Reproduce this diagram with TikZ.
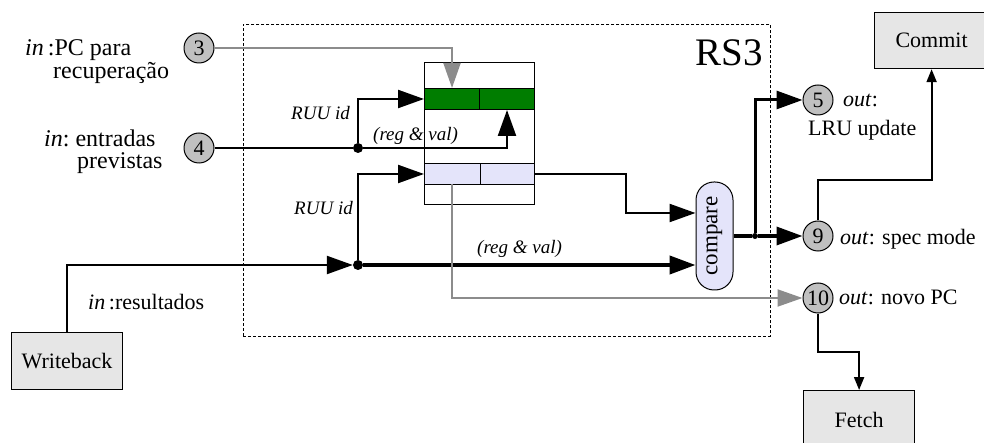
\documentclass[tikz,border=0pt]{standalone}
\usepackage{fontspec}
\setmainfont{Liberation Serif}
\usetikzlibrary{arrows.meta}
\definecolor{cgray}{RGB}{192,192,192}
\definecolor{boxgray}{RGB}{230,230,230}
\definecolor{dgreen}{RGB}{0,125,0}
\definecolor{lav}{RGB}{228,228,250}
\definecolor{lgray}{RGB}{140,140,140}
\begin{document}
\begin{tikzpicture}[x=1pt,y=-1pt,
  num/.style={circle,draw,fill=cgray,minimum size=30pt,inner sep=0pt,font=\fontsize{22}{24}\selectfont,line width=1pt},
  stage/.style={draw,fill=boxgray,line width=1.2pt,inner sep=0pt,anchor=north west,font=\fontsize{22}{26}\selectfont},
  lbl/.style={font=\fontsize{22}{26}\selectfont,inner sep=0pt,anchor=base west},
  lbll/.style={font=\fontsize{24}{28}\selectfont,inner sep=0pt,anchor=base west},
  ilbl/.style={font=\fontsize{19}{22}\selectfont\itshape,inner sep=0pt},
  cell/.style={draw,line width=1pt,inner sep=0pt,anchor=north west,minimum height=21pt},
  bigtip/.style={-{Triangle[length=26pt,width=18pt]}},
  smalltip/.style={-{Triangle[length=13pt,width=10pt]}},
  wire/.style={line width=2.3pt},
  gwire/.style={line width=2pt,draw=lgray,-{Triangle[length=25pt,width=17pt]},lgray},
  dot/.style={circle,fill,inner sep=0pt,minimum size=10pt}
]
\useasboundingbox (0,0) rectangle (984,443);
% RS3 frame
\node[draw,dash pattern=on 3pt off 2pt,line width=0.8pt,minimum width=527pt,minimum height=312pt,anchor=north west,inner sep=0pt] (rs) at (243,24) {};
\node[font=\fontsize{39}{42}\selectfont,inner sep=0pt,anchor=base east] (rst) at (763,66) {RS3};
% table
\node[draw,line width=1.2pt,minimum width=110pt,minimum height=142pt,anchor=north west,inner sep=0pt] (tab) at (424,62) {};
\node[cell,fill=dgreen,minimum width=55pt] (g1) at (424,88) {};
\node[cell,fill=dgreen,minimum width=55pt] (g2) at (479,88) {};
\node[cell,fill=lav,minimum width=56pt] (l1) at (424,163) {};
\node[cell,fill=lav,minimum width=54pt] (l2) at (480,163) {};
% compare
\node[draw,fill=lav,line width=1pt,rounded corners=18pt,minimum width=37pt,minimum height=108pt,inner sep=0pt,font=\fontsize{23}{25}\selectfont] (cmp) at (714.5,236) {\rotatebox{90}{compare}};
% numbered circles
\node[num] (c3) at (199,48) {3};
\node[num] (c4) at (199,148) {4};
\node[num] (c5) at (818,100) {5};
\node[num] (c9) at (818,236) {9};
\node[num] (c10) at (818,298) {10};
% stages
\node[stage,minimum width=111pt,minimum height=57pt] (wb) at (11,332) {Writeback};
\node[stage,minimum width=114pt,minimum height=56pt] (commit) at (874,12) {Commit};
\node[stage,minimum width=111pt,minimum height=58pt] (fetch) at (803,390) {Fetch};
% junctions
\node[dot] (j1) at (358,148) {};
\node[dot] (j2) at (358,265) {};
\node[circle,fill,inner sep=0pt,minimum size=6pt] (j3) at (755,236) {};
\coordinate (gx) at (452,88);
\coordinate (gy) at (452,184);
\coordinate (k1) at (626,213);
\coordinate (k2) at (900,180);
\coordinate (k3) at (840,352);
% connectors
\draw[gwire] (c3.east) -| (gx);
\draw[wire,bigtip] (c4.east) -- (j1) -| (g2.south);
\draw[wire,bigtip] (j1) |- (g1.west);
\draw[wire,bigtip] (wb.north) |- (j2);
\draw[wire,bigtip] (j2) |- (l1.west);
\draw[line width=4pt,bigtip] (j2) -- (cmp.west |- j2);
\draw[wire,bigtip] (l2.east) -| (k1) -- (cmp.west |- k1);
\draw[gwire] (gy) |- (c10.west);
\draw[line width=3.5pt] (cmp.east |- j3) -- (j3);
\draw[line width=3.5pt,bigtip] (j3) -- (c9.west);
\draw[line width=3pt,bigtip] (j3) |- (c5.west);
\draw[line width=2pt,smalltip] (c9.north) |- (k2) -| (commit.south);
\draw[line width=2pt,smalltip] (c10.south) |- (k3) -| (fetch.north);
% labels
\node[lbll] (t3a) at (25,56) {\textit{in}\,:PC para};
\node[lbll] (t3b) at (53,79) {recuperação};
\node[lbll] (t4a) at (44,147) {\textit{in}:\ entradas};
\node[lbll] (t4b) at (77,169) {previstas};
\node[ilbl,anchor=base east] (r1) at (350,120) {RUU id};
\node[ilbl,anchor=base east] (r2) at (353,215) {RUU id};
\node[ilbl,anchor=base west] (v1) at (373,141) {(reg \& val)};
\node[ilbl,anchor=base west] (v2) at (477,254) {(reg \& val)};
\node[lbl] (tres) at (88,309) {\textit{in}\,:resultados};
\node[lbl] (t5a) at (843,107) {\textit{out}:};
\node[lbl] (t5b) at (808,136) {LRU update};
\node[lbl] (t9) at (840,245) {\textit{out}: spec mode};
\node[lbl] (t10) at (839,305) {\textit{out}: novo PC};
\end{tikzpicture}
\end{document}
